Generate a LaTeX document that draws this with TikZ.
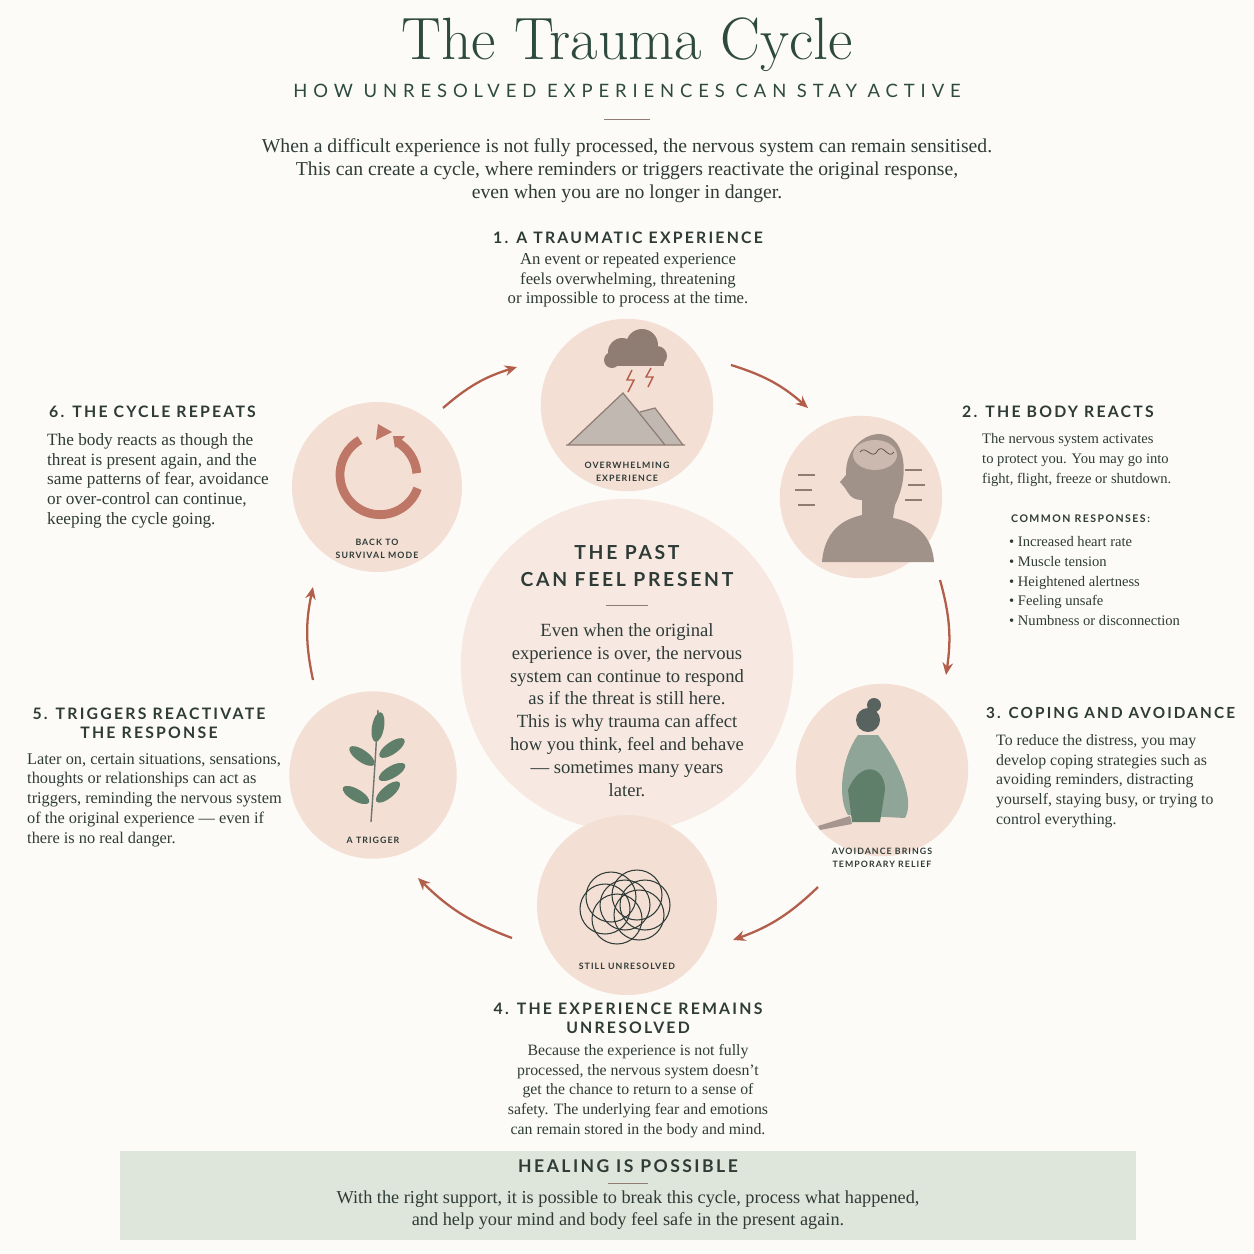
\documentclass[tikz,border=0pt]{standalone}
\usepackage{fontspec}
\setmainfont{Liberation Serif}
\newfontfamily\headfont{Lato}[LetterSpace=14]
\newfontfamily\subfont{Lato}[LetterSpace=32]
\newfontfamily\tagfont{Lato}[LetterSpace=12]
\newfontfamily\titlefont{Latin Modern Roman}
\usetikzlibrary{positioning,arrows.meta,calc}
\definecolor{paper}{HTML}{FCFBF7}
\definecolor{blush}{HTML}{F4DFD4}
\definecolor{pale}{HTML}{F7E9E1}
\definecolor{rust}{HTML}{B35E4B}
\definecolor{ink}{HTML}{2F3B37}
\definecolor{deep}{HTML}{2E4A40}
\definecolor{taupe}{HTML}{8F7D74}
\definecolor{sage}{HTML}{5F7F6A}
\definecolor{band}{HTML}{DEE5DA}
\tikzset{
    x=0.02cm, y=-0.02cm,
    stage/.style = {
        circle,
        fill=blush,
        minimum size=3.45cm,
        inner sep=0pt
    },
    heading/.style = {
        font=\headfont\bfseries\fontsize{9}{11}\selectfont,
        text=ink,
        align=center
    },
    para/.style = {
        font=\fontsize{9}{11.3}\selectfont,
        text=ink,
        align=left
    },
    tag/.style = {
        font=\tagfont\bfseries\fontsize{5}{7.5}\selectfont,
        text=ink,
        align=center
    },
    cycarrow/.style = {
        draw=rust,
        line width=1.3pt,
        -{Stealth[length=7pt,width=6pt]}
    },
    rule/.style = {draw=taupe, line width=0.5pt}
}
\begin{document}
\begin{tikzpicture}
\useasboundingbox[fill=paper] (0,0) rectangle (1254,1254);

% title block
\node[font=\titlefont\fontsize{34}{38}\selectfont, text=deep] (title) at (627,45) {The Trauma Cycle};
\node[font=\subfont\fontsize{10.5}{12}\selectfont, text=deep] (subtitle) at (627,91) {HOW UNRESOLVED EXPERIENCES CAN STAY ACTIVE};
\draw[rule] (604,119) -- (650,119);
\node[font=\fontsize{11.2}{13}\selectfont, text=ink, align=center] (intro) at (627,171)
  {When a difficult experience is not fully processed, the nervous system can remain sensitised.\\
   This can create a cycle, where reminders or triggers reactivate the original response,\\
   even when you are no longer in danger.};

% circles
\node[circle, fill=pale, minimum size=6.65cm] (core) at (627,665) {};
\node[stage] (c1) at (627,405) {};
\node[stage, minimum size=3.25cm] (c2) at (861,497) {};
\node[stage] (c3) at (882,770) {};
\node[stage, minimum size=3.6cm] (c4) at (627,905) {};
\node[stage, minimum size=3.35cm] (c5) at (373,775) {};
\node[stage, minimum size=3.4cm] (c6) at (377,487) {};

% centre text
\node[heading, font=\headfont\bfseries\fontsize{11}{15}\selectfont] (pasttitle) at (627,566) {THE PAST\\CAN FEEL PRESENT};
\draw[rule] (606,605) -- (648,605);
\node[font=\fontsize{10.6}{13}\selectfont, text=ink, align=center] (pasttext) at (627,710)
  {Even when the original\\experience is over, the nervous\\system can continue to respond\\as if the threat is still here.\\This is why trauma can affect\\how you think, feel and behave\\--- sometimes many years\\later.};

% icon 1: cloud and mountains
\fill[taupe] (622,352) circle (14) (642,345) circle (16) (657,356) circle (10) (612,360) circle (8);
\fill[taupe] (610,352) rectangle (664,366);
\draw[rust, line width=0.8pt] (632,370) -- (627,380) -- (634,380) -- (628,392);
\draw[rust, line width=0.8pt] (651,368) -- (646,377) -- (653,377) -- (648,387);
\fill[taupe!55] (568,445) -- (623,393) -- (640,412) -- (655,408) -- (683,445) -- cycle;
\draw[taupe, line width=0.7pt] (568,445) -- (623,393) -- (665,445) (640,412) -- (655,408) -- (683,445) (566,445) -- (685,445);
\node[tag] (t1) at (627,472) {OVERWHELMING\\EXPERIENCE};

% icon 2: head
\fill[taupe!85] (822,562) .. controls (825,525) and (850,518) .. (862,515)
  -- (862,500) .. controls (850,500) and (848,492) .. (845,488) -- (840,482) -- (846,475)
  .. controls (845,445) and (870,430) .. (885,435) .. controls (905,440) and (910,475) .. (895,505)
  -- (893,518) .. controls (915,522) and (932,535) .. (934,562) -- cycle;
\fill[blush!60!taupe] (875,455) ellipse (22 and 15);
\draw[taupe!60!black, line width=0.4pt] (860,452) .. controls (866,444) and (872,462) .. (878,450) .. controls (884,444) and (888,460) .. (894,452);
\foreach \a/\b in {815/475, 812/490, 815/505, 905/470, 908/485, 905/500}{
  \draw[taupe, line width=0.7pt] (\a,\b) -- ++(\ifnum\a<850 -17\else 17\fi,0);
}

% icon 3: sitting figure
\fill[ink!80] (868,720) circle (12) (874,705) circle (7);
\fill[sage!70] (858,735) .. controls (840,760) and (838,800) .. (848,815) -- (905,818)
  .. controls (915,800) and (900,765) .. (878,735) -- cycle;
\fill[sage] (848,790) .. controls (860,760) and (885,765) .. (885,790) -- (880,822) -- (852,822) -- cycle;
\fill[taupe!80] (818,826) -- (850,816) -- (852,824) -- (820,830) -- cycle;
\node[tag] (t3) at (882,858) {AVOIDANCE BRINGS\\TEMPORARY RELIEF};

% icon 4: knot of circles
\foreach \dx/\dy in {-14/-8, 12/-10, -8/14, 14/10, 0/0, -20/4, 20/0}{
  \draw[ink, line width=0.6pt] ($(625,905)+(\dx,\dy)$) circle (25);
}
\node[tag] (t4) at (627,966) {STILL UNRESOLVED};

% icon 5: sprig
\draw[ink!70, line width=0.8pt] (371,822) .. controls (374,780) and (376,750) .. (378,710);
\foreach \x/\y/\r in {378/727/80, 392/748/35, 362/756/145, 392/772/30, 356/795/150, 388/792/40}{
  \fill[sage] (\x,\y) ellipse[x radius=15, y radius=6, rotate=\r];
}
\node[tag] (t5) at (373,840) {A TRIGGER};

% icon 6: loop arrows
\draw[rust!85!white, line width=5pt] (360,440) arc[start angle=240, end angle=20, radius=40];
\draw[rust!85!white, line width=5pt] (397,442) arc[start angle=300, end angle=355, radius=40];
\fill[rust!85!white] (378,424) -- (392,432) -- (376,440) -- cycle;
\fill[rust!85!white] (393,436) -- (405,436) -- (395,448) -- cycle;
\node[tag] (t6) at (377,549) {BACK TO\\SURVIVAL MODE};

% cycle arrows
\coordinate (a1) at (443,408); \coordinate (b1) at (517,367);
\coordinate (a2) at (731,365); \coordinate (b2) at (808,408);
\coordinate (a3) at (940,580); \coordinate (b3) at (946,675);
\coordinate (a4) at (818,887); \coordinate (b4) at (733,940);
\coordinate (a5) at (512,938); \coordinate (b5) at (418,878);
\coordinate (a6) at (313,680); \coordinate (b6) at (313,587);
\foreach \i in {1,...,6}{
  \draw[cycarrow] (a\i) to[bend left=12] (b\i);
}

% stage texts
\node[heading] (h1) at (628,238) {1. A TRAUMATIC EXPERIENCE};
\node[para, align=center, font=\fontsize{9.5}{11.3}\selectfont] (p1) at (628,280) {An event or repeated experience\\feels overwhelming, threatening\\or impossible to process at the time.};

\node[heading, anchor=west] (h2) at (956,412) {2. THE BODY REACTS};
\node[para, anchor=north west, font=\fontsize{8.3}{11.3}\selectfont] (p2) at (976,427) {The nervous system activates\\to protect you. You may go into\\fight, flight, freeze or shutdown.};
\node[heading, font=\headfont\bfseries\fontsize{6}{8}\selectfont, anchor=west] (h2b) at (1005,519) {COMMON RESPONSES:};
\node[para, anchor=north west, font=\fontsize{8.3}{11.3}\selectfont] (p2b) at (1003,530) {\textbullet\ Increased heart rate\\\textbullet\ Muscle tension\\\textbullet\ Heightened alertness\\\textbullet\ Feeling unsafe\\\textbullet\ Numbness or disconnection};

\node[heading, anchor=west, font=\headfont\bfseries\fontsize{8.7}{11}\selectfont] (h3) at (980,713) {3. COPING AND AVOIDANCE};
\node[para, anchor=north west] (p3) at (990,728) {To reduce the distress, you may\\develop coping strategies such as\\avoiding reminders, distracting\\yourself, staying busy, or trying to\\control everything.};

\node[heading] (h4) at (628,1018) {4. THE EXPERIENCE REMAINS\\UNRESOLVED};
\node[para, align=center] (p4) at (638,1091) {Because the experience is not fully\\processed, the nervous system doesn't\\get the chance to return to a sense of\\safety. The underlying fear and emotions\\can remain stored in the body and mind.};

\node[heading] (h5) at (149,723) {5. TRIGGERS REACTIVATE\\THE RESPONSE};
\node[para, anchor=north west, font=\fontsize{9.3}{11.3}\selectfont] (p5) at (21,747) {Later on, certain situations, sensations,\\thoughts or relationships can act as\\triggers, reminding the nervous system\\of the original experience --- even if\\there is no real danger.};

\node[heading, anchor=west] (h6) at (43,412) {6. THE CYCLE REPEATS};
\node[para, anchor=north west, font=\fontsize{9.8}{11.3}\selectfont] (p6) at (41,427) {The body reacts as though the\\threat is present again, and the\\same patterns of fear, avoidance\\or over-control can continue,\\keeping the cycle going.};

% healing band
\node[fill=band, minimum width=20.32cm, minimum height=1.78cm, inner sep=0pt] (band) at (628,1195) {};
\node[heading, font=\headfont\bfseries\fontsize{10}{12}\selectfont] (healtitle) at (628,1166) {HEALING IS POSSIBLE};
\draw[rule] (608,1183) -- (648,1183);
\node[font=\fontsize{10.4}{12.5}\selectfont, text=ink, align=center] (healtext) at (628,1210)
  {With the right support, it is possible to break this cycle, process what happened,\\and help your mind and body feel safe in the present again.};
\end{tikzpicture}
\end{document}
